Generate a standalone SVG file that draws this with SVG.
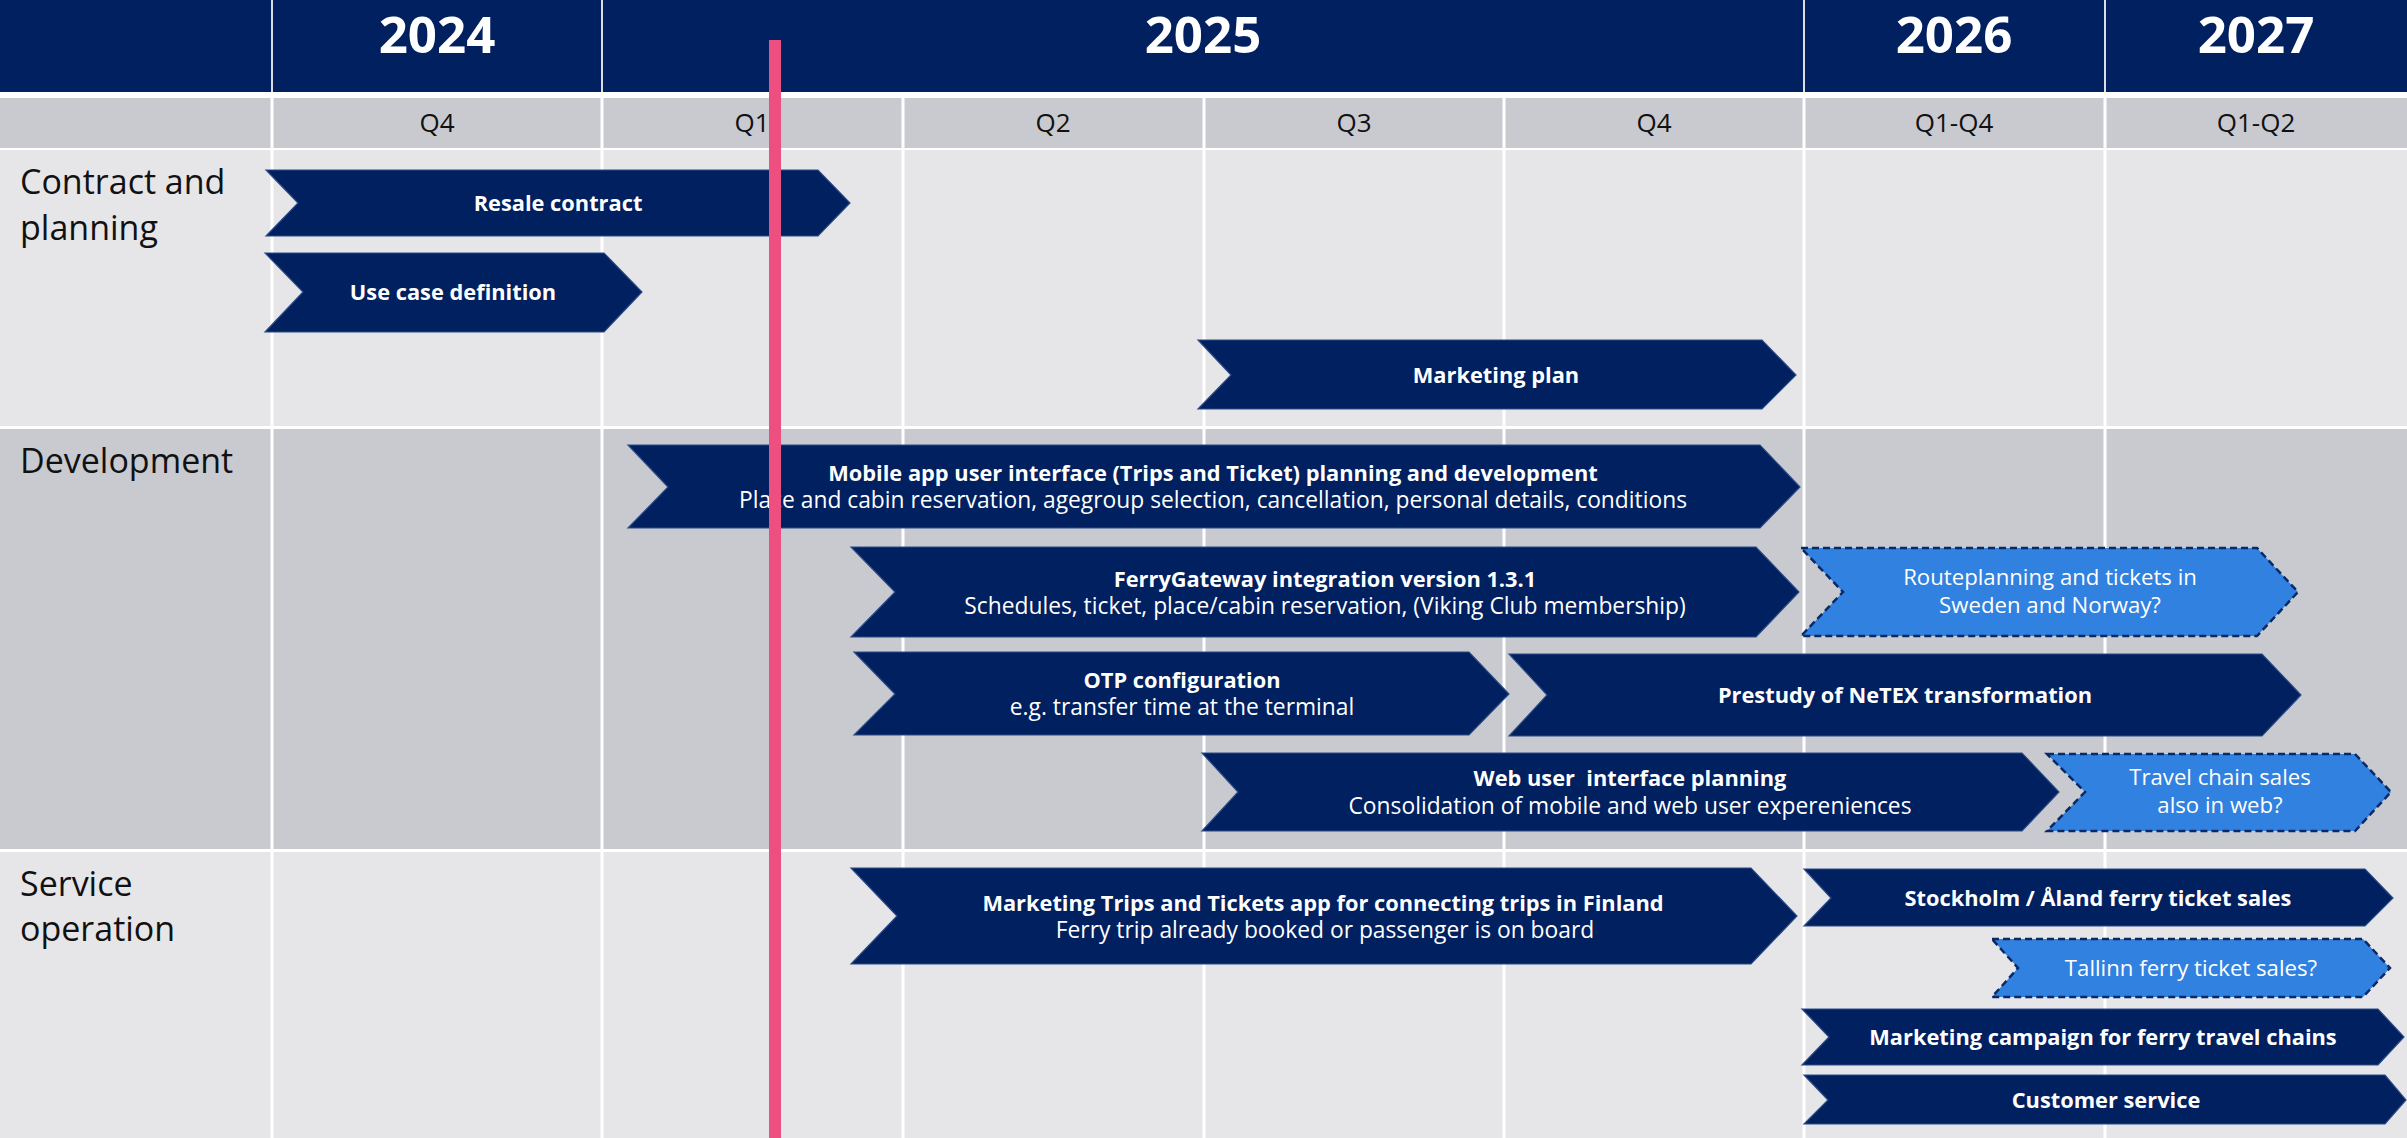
<svg xmlns="http://www.w3.org/2000/svg" width="2407" height="1138" viewBox="0 0 2407 1138">
<style>
.bg{fill:#ffffff}
.hdr{fill:#002060}
.qrow{fill:#C9CAD0}
.lrow{fill:#E6E6E9}
.drow{fill:#C9CAD0}
.grid{stroke:#ffffff;stroke-width:3}
.hsep{stroke:#ffffff;stroke-width:2;opacity:0.85}
.year{font-family:"Open Sans","Liberation Sans",sans-serif;font-weight:700;font-size:51px;fill:#ffffff;text-anchor:middle}
.q{font-family:"Open Sans","Liberation Sans",sans-serif;font-size:26px;fill:#111111;text-anchor:middle}
.lab{font-family:"Open Sans","Liberation Sans",sans-serif;font-size:34px;fill:#111111}
.bar{fill:#002060;stroke:#2A4A86;stroke-width:1.2}
.opt{fill:#3181E0;stroke:#0A2A66;stroke-width:2.5;stroke-dasharray:7 4}
.t{font-family:"Open Sans","Liberation Sans",sans-serif;fill:#ffffff;text-anchor:middle}
.b{font-weight:700;font-size:21.8px}
.r{font-size:22.8px}
.o{font-size:22.2px}
.now{fill:#EC4F80}
</style>
<rect class="bg" x="0" y="0" width="2407" height="1138"/>
<g id="grid">
<rect class="hdr" x="0" y="0" width="2407" height="92"/>
<rect class="qrow" x="0" y="98" width="2407" height="50"/>
<rect class="lrow" x="0" y="150" width="2407" height="276"/>
<rect class="drow" x="0" y="429" width="2407" height="420"/>
<rect class="lrow" x="0" y="852" width="2407" height="286"/>
<line class="hsep" x1="272" y1="0" x2="272" y2="92"/>
<line class="hsep" x1="602" y1="0" x2="602" y2="92"/>
<line class="hsep" x1="1804" y1="0" x2="1804" y2="92"/>
<line class="hsep" x1="2105" y1="0" x2="2105" y2="92"/>
<line class="grid" x1="272" y1="98" x2="272" y2="1138"/>
<line class="grid" x1="602" y1="98" x2="602" y2="1138"/>
<line class="grid" x1="903" y1="98" x2="903" y2="1138"/>
<line class="grid" x1="1204" y1="98" x2="1204" y2="1138"/>
<line class="grid" x1="1504" y1="98" x2="1504" y2="1138"/>
<line class="grid" x1="1804" y1="98" x2="1804" y2="1138"/>
<line class="grid" x1="2105" y1="98" x2="2105" y2="1138"/>
<text class="year" x="437" y="53">2024</text>
<text class="year" x="1203" y="53">2025</text>
<text class="year" x="1954" y="53">2026</text>
<text class="year" x="2256" y="53">2027</text>
<text class="q" x="437" y="132">Q4</text>
<text class="q" x="752" y="132">Q1</text>
<text class="q" x="1053" y="132">Q2</text>
<text class="q" x="1354" y="132">Q3</text>
<text class="q" x="1654" y="132">Q4</text>
<text class="q" x="1954" y="132">Q1-Q4</text>
<text class="q" x="2256" y="132">Q1-Q2</text>
<text class="lab" x="20" y="194">Contract and</text>
<text class="lab" x="20" y="240">planning</text>
<text class="lab" x="20" y="473">Development</text>
<text class="lab" x="20" y="896">Service</text>
<text class="lab" x="20" y="941">operation</text>
</g>
<g id="connectors"></g>
<g id="resale">
<path class="bar" d="M266,170 L818,170 L850,203 L818,236 L266,236 L298,203 Z"/>
<text class="t b" x="558" y="211">Resale contract</text>
</g>
<g id="usecase">
<path class="bar" d="M265,253 L604,253 L642,292 L604,332 L265,332 L303,292 Z"/>
<text class="t b" x="453" y="300">Use case definition</text>
</g>
<g id="marketing-plan">
<path class="bar" d="M1198,340 L1762,340 L1796,375 L1762,409 L1198,409 L1231,375 Z"/>
<text class="t b" x="1496" y="383">Marketing plan</text>
</g>
<g id="mobile-app">
<path class="bar" d="M628,445 L1760,445 L1800,487 L1760,528 L628,528 L668,487 Z"/>
<text class="t b" x="1213" y="481">Mobile app user interface (Trips and Ticket) planning and development</text>
<text class="t r" x="1213" y="508">Place and cabin reservation, agegroup selection, cancellation, personal details, conditions</text>
</g>
<g id="ferrygateway">
<path class="bar" d="M851,547 L1756,547 L1799,592 L1756,637 L851,637 L895,592 Z"/>
<text class="t b" x="1325" y="587">FerryGateway integration version 1.3.1</text>
<text class="t r" x="1325" y="614">Schedules, ticket, place/cabin reservation, (Viking Club membership)</text>
</g>
<g id="routeplanning">
<path class="opt" d="M1801,548 L2257,548 L2298,592 L2257,636 L1801,636 L1843,592 Z"/>
<text class="t o" x="2050" y="585">Routeplanning and tickets in</text>
<text class="t o" x="2050" y="613">Sweden and Norway?</text>
</g>
<g id="otp">
<path class="bar" d="M854,652 L1469,652 L1509,694 L1469,735 L854,735 L895,694 Z"/>
<text class="t b" x="1182" y="688">OTP configuration</text>
<text class="t r" x="1182" y="715">e.g. transfer time at the terminal</text>
</g>
<g id="prestudy">
<path class="bar" d="M1509,654 L2262,654 L2301,695 L2262,736 L1509,736 L1547,695 Z"/>
<text class="t b" x="1905" y="703">Prestudy of NeTEX transformation</text>
</g>
<g id="web-ui">
<path class="bar" d="M1202,753 L2022,753 L2059,792 L2022,831 L1202,831 L1238,792 Z"/>
<text class="t b" x="1630" y="786" style="white-space:pre">Web user  interface planning</text>
<text class="t r" x="1630" y="814">Consolidation of mobile and web user expereniences</text>
</g>
<g id="travel-chain">
<path class="opt" d="M2047,754 L2355,754 L2391,792 L2355,831 L2047,831 L2085,792 Z"/>
<text class="t o" x="2220" y="785">Travel chain sales</text>
<text class="t o" x="2220" y="813">also in web?</text>
</g>
<g id="marketing-trips">
<path class="bar" d="M851,868 L1751,868 L1797,916 L1751,964 L851,964 L897,916 Z"/>
<text class="t b" x="1323" y="911">Marketing Trips and Tickets app for connecting trips in Finland</text>
<text class="t r" x="1325" y="938">Ferry trip already booked or passenger is on board</text>
</g>
<g id="stockholm">
<path class="bar" d="M1804,869 L2365,869 L2393,898 L2365,926 L1804,926 L1831,898 Z"/>
<text class="t b" x="2098" y="906">Stockholm / Åland ferry ticket sales</text>
</g>
<g id="tallinn">
<path class="opt" d="M1992,939 L2363,939 L2390,968 L2363,997 L1992,997 L2018,968 Z"/>
<text class="t o" x="2191" y="976">Tallinn ferry ticket sales?</text>
</g>
<g id="campaign">
<path class="bar" d="M1802,1009 L2378,1009 L2404,1037 L2378,1065 L1802,1065 L1829,1037 Z"/>
<text class="t b" x="2103" y="1045">Marketing campaign for ferry travel chains</text>
</g>
<g id="customer-service">
<path class="bar" d="M1804,1075 L2385,1075 L2406,1100 L2385,1124 L1804,1124 L1828,1100 Z"/>
<text class="t b" x="2106" y="1108">Customer service</text>
</g>
<g id="today-line">
<rect class="now" x="769" y="40" width="12" height="1098"/>
</g>
</svg>
